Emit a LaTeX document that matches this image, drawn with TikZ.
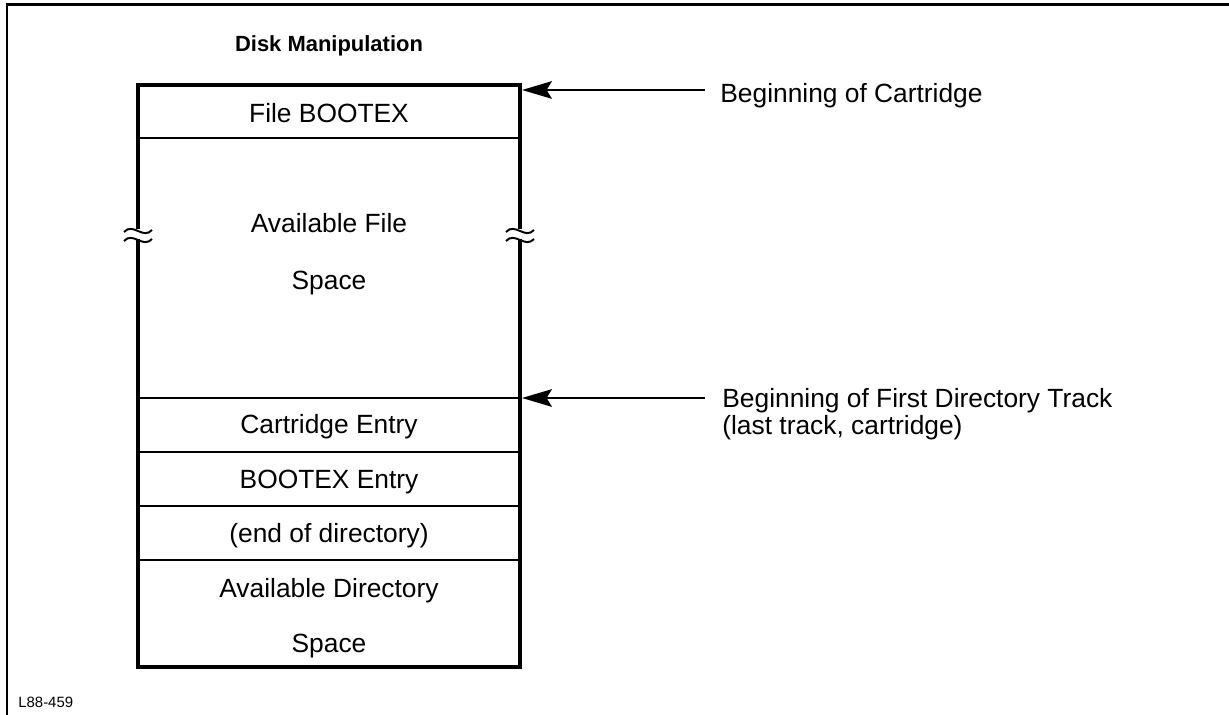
\documentclass[tikz,border=0pt]{standalone}
\usepackage{fontspec}
\setmainfont{Liberation Sans}
\usetikzlibrary{arrows.meta}

\begin{document}
\begin{tikzpicture}[x=0.02cm, y=-0.02cm]
            \useasboundingbox (0,0) rectangle (1229,715);
            % page frame
            \draw[line width=1.7pt] (7,715) -- (7,5) -- (1229,5);

            \begin{scope}[every node/.style={inner sep=0pt, anchor=base, font=\fontsize{15}{18}\selectfont}]
                \node[font=\fontsize{12.5}{15}\selectfont\bfseries] (title) at (329,52) {Disk Manipulation};
                \node (bootex) at (329,123) {File BOOTEX};
                \node (fileA) at (329,233) {Available File};
                \node (fileB) at (329,290) {Space};
                \node (cartEntry) at (329,434) {Cartridge Entry};
                \node (bootEntry) at (329,488) {BOOTEX Entry};
                \node (endDir) at (329,542) {(end of directory)};
                \node (dirA) at (329,597) {Available Directory};
                \node (dirB) at (329,652) {Space};
                \node[anchor=base west] (cartLbl) at (720,103) {Beginning of Cartridge};
                \node[anchor=base west] (dirLbl) at (722,408) {Beginning of First Directory Track};
                \node[anchor=base west] (dirLblB) at (722,435) {(last track, cartridge)};
                \node[anchor=base west, font=\fontsize{8.5}{10}\selectfont] (figno) at (18,707) {L88-459};
            \end{scope}

            % the disk layout
            \coordinate (tl) at (138,85);
            \coordinate (tr) at (520,85);
            \coordinate (bl) at (138,667);
            \coordinate (br) at (520,667);
            \begin{scope}[line width=2.3pt, line join=miter]
                \draw (138,229) -- (tl) -- (tr) -- (520,229);
                \draw (138,239) -- (bl) -- (br) -- (520,239);
            \end{scope}
            \foreach \y in {138,398,452,506,560}
                \draw[line width=1.2pt] (138,\y) -- (520,\y);
            % break marks
            \foreach \x in {138,520}
                \foreach \y in {231,240}
                    \draw[line width=1.1pt] (\x-14,\y+1) .. controls (\x-5,\y-9) and (\x+5,\y+9) .. (\x+14,\y-1);

            \begin{scope}[>={Stealth[length=17pt, width=10pt, inset=3pt]},
                          every edge/.style={draw=black, line width=1.2pt}]
                \coordinate (cartTail) at (705,90);
                \coordinate (cartHead) at (522,90);
                \coordinate (dirTail) at (705,398);
                \coordinate (dirHead) at (522,398);
                \path[->] (cartTail) edge (cartHead);
                \path[->] (dirTail) edge (dirHead);
            \end{scope}

            \end{tikzpicture}
\end{document}
